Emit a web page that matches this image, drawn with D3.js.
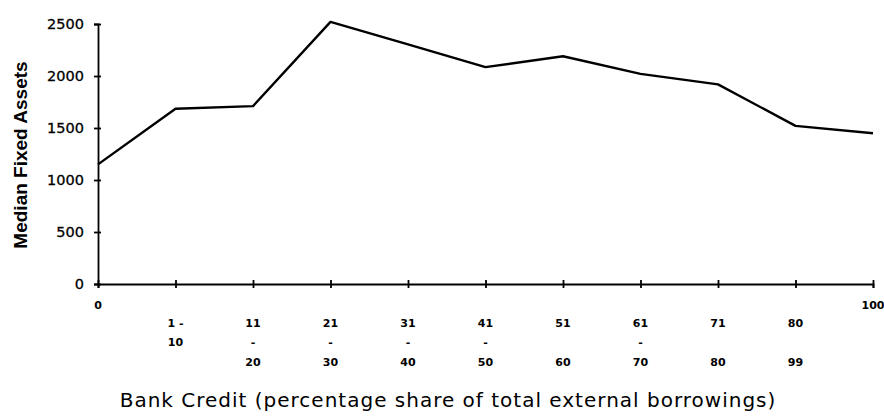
<!DOCTYPE html>
<html>
<head>
<meta charset="utf-8">
<script src="https://cdn.jsdelivr.net/npm/d3@7"></script>
<style>
  body { margin: 0; background: #fff; }
  svg { display: block; }
</style>
</head>
<body>
<div id="chart"></div>
<script>
// categories along the bottom (bank credit share groups)
const categories = ["0", "1-10", "11-20", "21-30", "31-40", "41-50", "51-60", "61-70", "71-80", "80-99", "100"];
// tick label lines for each category (row1, row2, row3)
const tickLines = [
  ["0"], ["1 -", "10"], ["11", "-", "20"], ["21", "-", "30"], ["31", "-", "40"],
  ["41", "-", "50"], ["51", "", "60"], ["61", "-", "70"], ["71", "", "80"], ["80", "", "99"], ["100"]
];
// median fixed assets per group
const medianAssets = [1150, 1685, 1710, 2520, 2305, 2085, 2190, 2020, 1920, 1520, 1450];
const yTicks = [0, 500, 1000, 1500, 2000, 2500];

const width = 884, height = 417;

const svg = d3.select("#chart")
  .append("svg")
    .attr("width", width)
    .attr("height", height);

const x = d3.scalePoint()
  .domain(categories)
  .range([98, 873]);

const y = d3.scaleLinear()
  .domain([0, 2500])
  .range([284, 24]);

// y axis: labels plus crossing ticks
const yAxis = svg.append("g")
  .attr("transform", `translate(${x(categories[0])},0)`)
  .call(d3.axisLeft(y).tickValues(yTicks).tickSize(4).tickPadding(10).tickFormat(d3.format("d")));
svg.append("g")
  .attr("transform", `translate(${x(categories[0])},0)`)
  .call(d3.axisLeft(y).tickValues(yTicks).tickSize(-3).tickFormat(""))
  .select(".domain").remove();

yAxis.selectAll("text")
  .style("font-family", "'DejaVu Sans', sans-serif")
  .style("font-size", "14.5px")
  .attr("fill", "#000")
  .attr("stroke", "#000")
  .attr("stroke-width", 0.3);

// x axis, ticks cross the line
svg.append("g")
  .attr("transform", `translate(0,${y(0)})`)
  .call(d3.axisBottom(x).tickSize(4).tickFormat(""));
svg.append("g")
  .attr("transform", `translate(0,${y(0)})`)
  .call(d3.axisBottom(x).tickSize(-4).tickFormat(""))
  .select(".domain").remove();

svg.selectAll(".domain, .tick line")
  .attr("stroke", "#000")
  .attr("stroke-width", 1.8);

// multi line category labels
const rowY = [327, 346, 366];
const labels = svg.append("g")
  .selectAll("text")
  .data(categories)
  .join("text")
    .attr("text-anchor", "middle")
    .style("font-family", "'DejaVu Sans', sans-serif")
    .style("font-size", "11px")
    .style("font-weight", "bold")
    .attr("fill", "#000");

labels.each(function(d, i) {
  const lines = tickLines[i];
  const el = d3.select(this);
  if (lines.length === 1) {
    el.append("tspan").attr("x", x(d)).attr("y", 309).text(lines[0]);
  } else {
    lines.forEach((t, j) => {
      if (t) el.append("tspan").attr("x", x(d)).attr("y", rowY[j]).text(t);
    });
  }
});

// the line
const line = d3.line()
  .x((d, i) => x(categories[i]))
  .y(d => y(d));

svg.append("path")
  .datum(medianAssets)
  .attr("d", line)
  .attr("fill", "none")
  .attr("stroke", "#000")
  .attr("stroke-width", 2.4)
  .attr("stroke-linejoin", "round");

// axis titles
svg.append("text")
  .attr("transform", "translate(27,155) rotate(-90)")
  .attr("text-anchor", "middle")
  .style("font-family", "'Liberation Sans', Arial, sans-serif")
  .style("font-size", "19px")
  .style("font-weight", "bold")
  .text("Median Fixed Assets");

svg.append("text")
  .attr("x", 448)
  .attr("y", 407)
  .attr("text-anchor", "middle")
  .style("font-family", "'DejaVu Sans', sans-serif")
  .style("font-size", "20px")
  .style("letter-spacing", "1px")
  .text("Bank Credit (percentage share of total external borrowings)");
</script>
</body>
</html>
